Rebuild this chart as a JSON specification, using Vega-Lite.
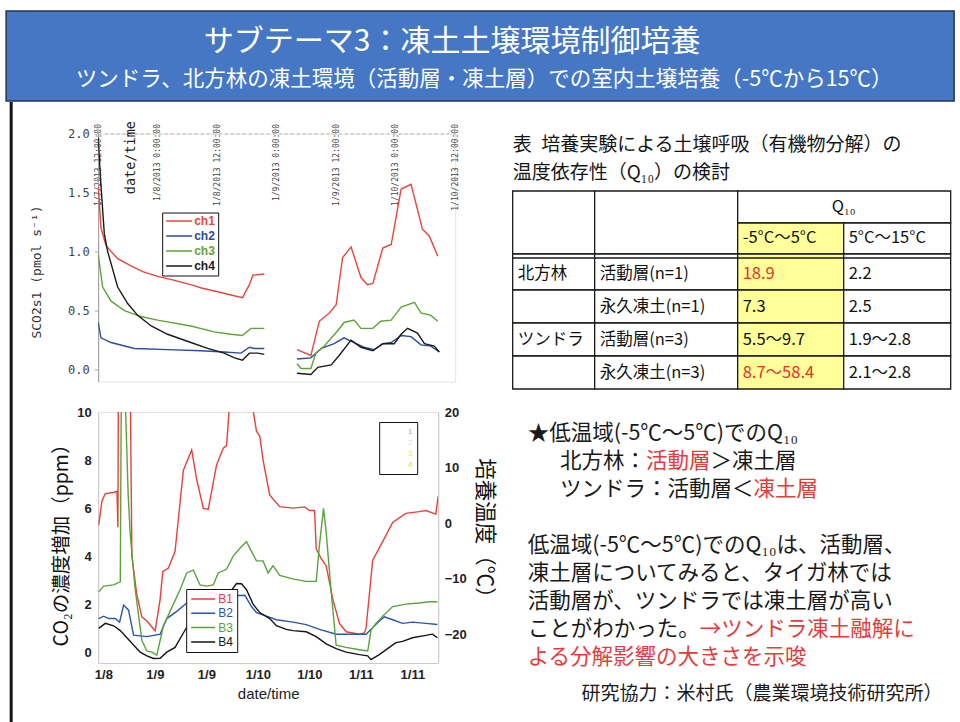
{
  "$schema": "https://vega.github.io/schema/vega-lite/v6.json",
  "background": "#ffffff",
  "padding": {"left": 5, "top": 10, "right": 0, "bottom": 0},
  "config": {"view": {"stroke": null}, "font": "Noto Sans CJK JP", "axis": {"grid": false}},
  "datasets": {
    "heading": [
      {"level": "title", "text": "サブテーマ3：凍土土壌環境制御培養"},
      {"level": "subtitle", "text": "ツンドラ、北方林の凍土環境（活動層・凍土層）での室内土壌培養（-5℃から15℃）"}
    ],
    "sco2": [
      {"ch": "ch1", "seg": 1, "t": 0, "v": 1.55}, {"ch": "ch1", "seg": 1, "t": 0.57, "v": 1.2}, {"ch": "ch1", "seg": 1, "t": 1.58, "v": 1.05}, {"ch": "ch1", "seg": 1, "t": 3.93, "v": 0.94}, {"ch": "ch1", "seg": 1, "t": 6.62, "v": 0.88}, {"ch": "ch1", "seg": 1, "t": 9, "v": 0.83}, {"ch": "ch1", "seg": 1, "t": 12, "v": 0.79}, {"ch": "ch1", "seg": 1, "t": 15, "v": 0.76}, {"ch": "ch1", "seg": 1, "t": 18.7, "v": 0.72}, {"ch": "ch1", "seg": 1, "t": 21, "v": 0.69}, {"ch": "ch1", "seg": 1, "t": 24.1, "v": 0.66}, {"ch": "ch1", "seg": 1, "t": 27, "v": 0.63}, {"ch": "ch1", "seg": 1, "t": 29.1, "v": 0.61}, {"ch": "ch1", "seg": 1, "t": 30.5, "v": 0.72}, {"ch": "ch1", "seg": 1, "t": 31.2, "v": 0.8}, {"ch": "ch1", "seg": 1, "t": 33.5, "v": 0.81},
      {"ch": "ch1", "seg": 2, "t": 40.1, "v": 0.17}, {"ch": "ch1", "seg": 2, "t": 42.9, "v": 0.12}, {"ch": "ch1", "seg": 2, "t": 44.6, "v": 0.41}, {"ch": "ch1", "seg": 2, "t": 46.6, "v": 0.48}, {"ch": "ch1", "seg": 2, "t": 48, "v": 0.55}, {"ch": "ch1", "seg": 2, "t": 49.3, "v": 0.95}, {"ch": "ch1", "seg": 2, "t": 51, "v": 1.04}, {"ch": "ch1", "seg": 2, "t": 53, "v": 0.78}, {"ch": "ch1", "seg": 2, "t": 54.3, "v": 0.72}, {"ch": "ch1", "seg": 2, "t": 55.4, "v": 0.73}, {"ch": "ch1", "seg": 2, "t": 57.4, "v": 1.03}, {"ch": "ch1", "seg": 2, "t": 59.1, "v": 1.06}, {"ch": "ch1", "seg": 2, "t": 59.7, "v": 1.2}, {"ch": "ch1", "seg": 2, "t": 61.1, "v": 1.53}, {"ch": "ch1", "seg": 2, "t": 63.1, "v": 1.57}, {"ch": "ch1", "seg": 2, "t": 65.4, "v": 1.19}, {"ch": "ch1", "seg": 2, "t": 66.8, "v": 1.13}, {"ch": "ch1", "seg": 2, "t": 68.5, "v": 0.96},
      {"ch": "ch2", "seg": 1, "t": 0, "v": 0.4}, {"ch": "ch2", "seg": 1, "t": 0.57, "v": 0.27}, {"ch": "ch2", "seg": 1, "t": 2.6, "v": 0.23}, {"ch": "ch2", "seg": 1, "t": 7.3, "v": 0.18}, {"ch": "ch2", "seg": 1, "t": 14, "v": 0.17}, {"ch": "ch2", "seg": 1, "t": 20.7, "v": 0.16}, {"ch": "ch2", "seg": 1, "t": 25.4, "v": 0.15}, {"ch": "ch2", "seg": 1, "t": 28.8, "v": 0.14}, {"ch": "ch2", "seg": 1, "t": 30.5, "v": 0.19}, {"ch": "ch2", "seg": 1, "t": 31.5, "v": 0.18}, {"ch": "ch2", "seg": 1, "t": 33.5, "v": 0.18},
      {"ch": "ch2", "seg": 2, "t": 40.1, "v": 0.09}, {"ch": "ch2", "seg": 2, "t": 42.9, "v": 0.1}, {"ch": "ch2", "seg": 2, "t": 45, "v": 0.18}, {"ch": "ch2", "seg": 2, "t": 47.6, "v": 0.22}, {"ch": "ch2", "seg": 2, "t": 49.6, "v": 0.27}, {"ch": "ch2", "seg": 2, "t": 51.6, "v": 0.23}, {"ch": "ch2", "seg": 2, "t": 53.6, "v": 0.19}, {"ch": "ch2", "seg": 2, "t": 55.7, "v": 0.17}, {"ch": "ch2", "seg": 2, "t": 57.4, "v": 0.22}, {"ch": "ch2", "seg": 2, "t": 59.1, "v": 0.23}, {"ch": "ch2", "seg": 2, "t": 61.1, "v": 0.29}, {"ch": "ch2", "seg": 2, "t": 63.1, "v": 0.28}, {"ch": "ch2", "seg": 2, "t": 65.1, "v": 0.21}, {"ch": "ch2", "seg": 2, "t": 67.1, "v": 0.2}, {"ch": "ch2", "seg": 2, "t": 68.8, "v": 0.15},
      {"ch": "ch3", "seg": 1, "t": 0, "v": 0.98}, {"ch": "ch3", "seg": 1, "t": 0.9, "v": 0.7}, {"ch": "ch3", "seg": 1, "t": 2.6, "v": 0.58}, {"ch": "ch3", "seg": 1, "t": 5.3, "v": 0.5}, {"ch": "ch3", "seg": 1, "t": 8.6, "v": 0.45}, {"ch": "ch3", "seg": 1, "t": 12, "v": 0.42}, {"ch": "ch3", "seg": 1, "t": 18.7, "v": 0.37}, {"ch": "ch3", "seg": 1, "t": 23.4, "v": 0.32}, {"ch": "ch3", "seg": 1, "t": 26.8, "v": 0.3}, {"ch": "ch3", "seg": 1, "t": 29.1, "v": 0.29}, {"ch": "ch3", "seg": 1, "t": 30.8, "v": 0.35}, {"ch": "ch3", "seg": 1, "t": 33.5, "v": 0.35},
      {"ch": "ch3", "seg": 2, "t": 40.1, "v": 0.05}, {"ch": "ch3", "seg": 2, "t": 40.9, "v": 0.01}, {"ch": "ch3", "seg": 2, "t": 42.9, "v": 0.01}, {"ch": "ch3", "seg": 2, "t": 43.9, "v": 0.14}, {"ch": "ch3", "seg": 2, "t": 45.6, "v": 0.2}, {"ch": "ch3", "seg": 2, "t": 48.3, "v": 0.33}, {"ch": "ch3", "seg": 2, "t": 49.6, "v": 0.4}, {"ch": "ch3", "seg": 2, "t": 51.6, "v": 0.42}, {"ch": "ch3", "seg": 2, "t": 53, "v": 0.35}, {"ch": "ch3", "seg": 2, "t": 55.4, "v": 0.35}, {"ch": "ch3", "seg": 2, "t": 57, "v": 0.41}, {"ch": "ch3", "seg": 2, "t": 59.1, "v": 0.42}, {"ch": "ch3", "seg": 2, "t": 61.1, "v": 0.53}, {"ch": "ch3", "seg": 2, "t": 63.8, "v": 0.57}, {"ch": "ch3", "seg": 2, "t": 65.1, "v": 0.48}, {"ch": "ch3", "seg": 2, "t": 67.1, "v": 0.46}, {"ch": "ch3", "seg": 2, "t": 68.5, "v": 0.41},
      {"ch": "ch4", "seg": 1, "t": 0, "v": 1.97}, {"ch": "ch4", "seg": 1, "t": 0.5, "v": 1.6}, {"ch": "ch4", "seg": 1, "t": 1.24, "v": 1.15}, {"ch": "ch4", "seg": 1, "t": 1.92, "v": 1.0}, {"ch": "ch4", "seg": 1, "t": 3.93, "v": 0.7}, {"ch": "ch4", "seg": 1, "t": 5.95, "v": 0.56}, {"ch": "ch4", "seg": 1, "t": 7.97, "v": 0.46}, {"ch": "ch4", "seg": 1, "t": 10.7, "v": 0.37}, {"ch": "ch4", "seg": 1, "t": 14, "v": 0.3}, {"ch": "ch4", "seg": 1, "t": 18.7, "v": 0.23}, {"ch": "ch4", "seg": 1, "t": 22.1, "v": 0.18}, {"ch": "ch4", "seg": 1, "t": 25.4, "v": 0.14}, {"ch": "ch4", "seg": 1, "t": 27.5, "v": 0.1}, {"ch": "ch4", "seg": 1, "t": 29.1, "v": 0.08}, {"ch": "ch4", "seg": 1, "t": 30.5, "v": 0.14}, {"ch": "ch4", "seg": 1, "t": 32.2, "v": 0.14}, {"ch": "ch4", "seg": 1, "t": 33.5, "v": 0.13},
      {"ch": "ch4", "seg": 2, "t": 40.1, "v": -0.03}, {"ch": "ch4", "seg": 2, "t": 42.9, "v": -0.04}, {"ch": "ch4", "seg": 2, "t": 44.3, "v": 0.02}, {"ch": "ch4", "seg": 2, "t": 47, "v": 0.04}, {"ch": "ch4", "seg": 2, "t": 48.6, "v": 0.12}, {"ch": "ch4", "seg": 2, "t": 51, "v": 0.25}, {"ch": "ch4", "seg": 2, "t": 53, "v": 0.19}, {"ch": "ch4", "seg": 2, "t": 55.4, "v": 0.16}, {"ch": "ch4", "seg": 2, "t": 57.4, "v": 0.22}, {"ch": "ch4", "seg": 2, "t": 59.7, "v": 0.22}, {"ch": "ch4", "seg": 2, "t": 61.1, "v": 0.3}, {"ch": "ch4", "seg": 2, "t": 62.4, "v": 0.35}, {"ch": "ch4", "seg": 2, "t": 64.4, "v": 0.31}, {"ch": "ch4", "seg": 2, "t": 65.8, "v": 0.22}, {"ch": "ch4", "seg": 2, "t": 67.8, "v": 0.2}, {"ch": "ch4", "seg": 2, "t": 68.8, "v": 0.15}
    ],
    "co2": [
      {"b": "B1", "t": -1.08, "v": 5.3}, {"b": "B1", "t": -0.31, "v": 6.3}, {"b": "B1", "t": 0.46, "v": 6.6}, {"b": "B1", "t": 2.4, "v": 6.65}, {"b": "B1", "t": 3.17, "v": 6.7}, {"b": "B1", "t": 3.4, "v": 5.2}, {"b": "B1", "t": 3.5, "v": 10.5}, {"b": "B1", "t": 6.3, "v": 10.5}, {"b": "B1", "t": 6.65, "v": 4.0}, {"b": "B1", "t": 7.8, "v": 2.4}, {"b": "B1", "t": 8.97, "v": 1.47}, {"b": "B1", "t": 10.14, "v": 1.3}, {"b": "B1", "t": 12.07, "v": 0.89}, {"b": "B1", "t": 13.23, "v": 2.2}, {"b": "B1", "t": 13.85, "v": 3.35}, {"b": "B1", "t": 15.16, "v": 3.5}, {"b": "B1", "t": 16.71, "v": 4.2}, {"b": "B1", "t": 18.65, "v": 7.58}, {"b": "B1", "t": 20.58, "v": 8.42}, {"b": "B1", "t": 21.74, "v": 7.2}, {"b": "B1", "t": 23.29, "v": 5.99}, {"b": "B1", "t": 24.45, "v": 5.95}, {"b": "B1", "t": 26.38, "v": 7.8}, {"b": "B1", "t": 27.93, "v": 8.49}, {"b": "B1", "t": 28.7, "v": 8.6}, {"b": "B1", "t": 29.48, "v": 10.5}, {"b": "B1", "t": 34.51, "v": 10.5}, {"b": "B1", "t": 35.67, "v": 9.2}, {"b": "B1", "t": 36.44, "v": 9.0}, {"b": "B1", "t": 37.21, "v": 8.0}, {"b": "B1", "t": 38.76, "v": 6.54}, {"b": "B1", "t": 41.08, "v": 6.06}, {"b": "B1", "t": 44.18, "v": 6.0}, {"b": "B1", "t": 46.89, "v": 6.05}, {"b": "B1", "t": 48.05, "v": 5.9}, {"b": "B1", "t": 49.21, "v": 5.9}, {"b": "B1", "t": 49.59, "v": 4.3}, {"b": "B1", "t": 50.75, "v": 3.9}, {"b": "B1", "t": 51.91, "v": 3.6}, {"b": "B1", "t": 53.46, "v": 2.2}, {"b": "B1", "t": 55.01, "v": 1.2}, {"b": "B1", "t": 56.56, "v": 0.85}, {"b": "B1", "t": 58.1, "v": 0.8}, {"b": "B1", "t": 59.65, "v": 0.75}, {"b": "B1", "t": 60.81, "v": 0.8}, {"b": "B1", "t": 61.2, "v": 1.0}, {"b": "B1", "t": 62.75, "v": 3.83}, {"b": "B1", "t": 65.07, "v": 4.6}, {"b": "B1", "t": 67.39, "v": 5.4}, {"b": "B1", "t": 70.48, "v": 5.78}, {"b": "B1", "t": 73.58, "v": 5.85}, {"b": "B1", "t": 75.13, "v": 5.9}, {"b": "B1", "t": 77.45, "v": 5.75}, {"b": "B1", "t": 78.0, "v": 6.5},
      {"b": "B2", "t": -1.08, "v": 1.4}, {"b": "B2", "t": 0.08, "v": 1.5}, {"b": "B2", "t": 1.24, "v": 1.4}, {"b": "B2", "t": 2.79, "v": 1.4}, {"b": "B2", "t": 3.79, "v": 1.25}, {"b": "B2", "t": 4.72, "v": 1.96}, {"b": "B2", "t": 5.88, "v": 1.75}, {"b": "B2", "t": 7.04, "v": 0.71}, {"b": "B2", "t": 10.14, "v": 0.65}, {"b": "B2", "t": 13.23, "v": 0.75}, {"b": "B2", "t": 14.78, "v": 1.4}, {"b": "B2", "t": 17.1, "v": 1.7}, {"b": "B2", "t": 19.42, "v": 2.05}, {"b": "B2", "t": 21.74, "v": 2.3}, {"b": "B2", "t": 24.06, "v": 2.31}, {"b": "B2", "t": 27.16, "v": 2.3}, {"b": "B2", "t": 30.25, "v": 2.35}, {"b": "B2", "t": 32.96, "v": 2.37}, {"b": "B2", "t": 34.51, "v": 1.9}, {"b": "B2", "t": 35.67, "v": 1.65}, {"b": "B2", "t": 37.99, "v": 1.5}, {"b": "B2", "t": 40.31, "v": 1.35}, {"b": "B2", "t": 44.18, "v": 1.25}, {"b": "B2", "t": 47.27, "v": 1.15}, {"b": "B2", "t": 50.37, "v": 0.95}, {"b": "B2", "t": 54.24, "v": 0.75}, {"b": "B2", "t": 58.1, "v": 0.75}, {"b": "B2", "t": 61.2, "v": 0.75}, {"b": "B2", "t": 62.36, "v": 0.95}, {"b": "B2", "t": 64.29, "v": 1.3}, {"b": "B2", "t": 65.45, "v": 1.47}, {"b": "B2", "t": 67.39, "v": 1.35}, {"b": "B2", "t": 69.71, "v": 1.2}, {"b": "B2", "t": 72.03, "v": 1.25}, {"b": "B2", "t": 75.13, "v": 1.2}, {"b": "B2", "t": 77.83, "v": 1.15},
      {"b": "B3", "t": -1.08, "v": 2.51}, {"b": "B3", "t": 0.08, "v": 2.75}, {"b": "B3", "t": 2.4, "v": 2.8}, {"b": "B3", "t": 3.95, "v": 2.93}, {"b": "B3", "t": 4.18, "v": 10.5}, {"b": "B3", "t": 5.11, "v": 10.5}, {"b": "B3", "t": 5.8, "v": 6.5}, {"b": "B3", "t": 6.27, "v": 4.9}, {"b": "B3", "t": 7.43, "v": 2.6}, {"b": "B3", "t": 8.97, "v": 0.5}, {"b": "B3", "t": 10.14, "v": 0.05}, {"b": "B3", "t": 11.3, "v": 0.0}, {"b": "B3", "t": 12.46, "v": -0.12}, {"b": "B3", "t": 14.0, "v": 1.1}, {"b": "B3", "t": 15.55, "v": 1.7}, {"b": "B3", "t": 17.87, "v": 2.6}, {"b": "B3", "t": 19.42, "v": 3.3}, {"b": "B3", "t": 20.97, "v": 3.42}, {"b": "B3", "t": 22.51, "v": 2.8}, {"b": "B3", "t": 24.06, "v": 2.75}, {"b": "B3", "t": 25.61, "v": 2.8}, {"b": "B3", "t": 26.77, "v": 3.3}, {"b": "B3", "t": 28.7, "v": 3.45}, {"b": "B3", "t": 30.25, "v": 4.0}, {"b": "B3", "t": 32.19, "v": 4.4}, {"b": "B3", "t": 33.35, "v": 4.6}, {"b": "B3", "t": 34.51, "v": 4.2}, {"b": "B3", "t": 35.67, "v": 3.8}, {"b": "B3", "t": 37.21, "v": 3.8}, {"b": "B3", "t": 38.38, "v": 3.3}, {"b": "B3", "t": 39.54, "v": 3.6}, {"b": "B3", "t": 41.08, "v": 3.2}, {"b": "B3", "t": 44.18, "v": 3.05}, {"b": "B3", "t": 47.27, "v": 2.95}, {"b": "B3", "t": 49.59, "v": 2.95}, {"b": "B3", "t": 50.37, "v": 4.5}, {"b": "B3", "t": 51.3, "v": 5.99}, {"b": "B3", "t": 51.91, "v": 5.0}, {"b": "B3", "t": 53.08, "v": 2.5}, {"b": "B3", "t": 54.24, "v": 0.29}, {"b": "B3", "t": 56.56, "v": 0.2}, {"b": "B3", "t": 59.65, "v": 0.1}, {"b": "B3", "t": 61.59, "v": 0.05}, {"b": "B3", "t": 62.36, "v": 0.92}, {"b": "B3", "t": 63.52, "v": 1.2}, {"b": "B3", "t": 65.07, "v": 1.5}, {"b": "B3", "t": 67.39, "v": 1.9}, {"b": "B3", "t": 70.48, "v": 2.0}, {"b": "B3", "t": 73.58, "v": 2.05}, {"b": "B3", "t": 75.9, "v": 2.1}, {"b": "B3", "t": 77.83, "v": 2.1},
      {"b": "B4", "t": -1.08, "v": 0.99}, {"b": "B4", "t": 0.46, "v": 1.2}, {"b": "B4", "t": 2.4, "v": 1.1}, {"b": "B4", "t": 3.95, "v": 0.9}, {"b": "B4", "t": 5.49, "v": 0.6}, {"b": "B4", "t": 7.04, "v": 0.3}, {"b": "B4", "t": 8.59, "v": 0.0}, {"b": "B4", "t": 10.14, "v": -0.15}, {"b": "B4", "t": 11.68, "v": -0.26}, {"b": "B4", "t": 13.23, "v": -0.25}, {"b": "B4", "t": 14.78, "v": 0.0}, {"b": "B4", "t": 16.71, "v": 0.2}, {"b": "B4", "t": 18.65, "v": 0.8}, {"b": "B4", "t": 20.97, "v": 1.5}, {"b": "B4", "t": 22.51, "v": 1.8}, {"b": "B4", "t": 24.06, "v": 1.9}, {"b": "B4", "t": 26.38, "v": 2.0}, {"b": "B4", "t": 28.7, "v": 2.3}, {"b": "B4", "t": 31.03, "v": 2.86}, {"b": "B4", "t": 32.19, "v": 2.85}, {"b": "B4", "t": 33.35, "v": 2.6}, {"b": "B4", "t": 34.89, "v": 2.0}, {"b": "B4", "t": 36.44, "v": 1.65}, {"b": "B4", "t": 38.76, "v": 1.4}, {"b": "B4", "t": 40.31, "v": 1.1}, {"b": "B4", "t": 42.63, "v": 0.95}, {"b": "B4", "t": 44.18, "v": 0.9}, {"b": "B4", "t": 47.27, "v": 0.85}, {"b": "B4", "t": 49.59, "v": 0.65}, {"b": "B4", "t": 51.91, "v": 0.35}, {"b": "B4", "t": 54.24, "v": 0.15}, {"b": "B4", "t": 56.56, "v": 0.0}, {"b": "B4", "t": 59.65, "v": -0.1}, {"b": "B4", "t": 61.59, "v": -0.15}, {"b": "B4", "t": 62.36, "v": -0.31}, {"b": "B4", "t": 64.29, "v": -0.1}, {"b": "B4", "t": 66.62, "v": 0.2}, {"b": "B4", "t": 68.16, "v": 0.4}, {"b": "B4", "t": 69.71, "v": 0.45}, {"b": "B4", "t": 72.03, "v": 0.6}, {"b": "B4", "t": 75.13, "v": 0.7}, {"b": "B4", "t": 76.67, "v": 0.75}, {"b": "B4", "t": 77.83, "v": 0.6}
    ],
    "q10cells": [
      {"r0": 0, "r1": 2, "c0": 0, "c1": 1, "label": ""},
      {"r0": 0, "r1": 2, "c0": 1, "c1": 2, "label": ""},
      {"r0": 0, "r1": 1, "c0": 2, "c1": 4, "label": "Q₁₀"},
      {"r0": 1, "r1": 2, "c0": 2, "c1": 3, "label": "-5°C～5°C"},
      {"r0": 1, "r1": 2, "c0": 3, "c1": 4, "label": "5°C～15°C"},
      {"r0": 2, "r1": 3, "c0": 0, "c1": 1, "label": "北方林"},
      {"r0": 2, "r1": 3, "c0": 1, "c1": 2, "label": "活動層(n=1)"},
      {"r0": 2, "r1": 3, "c0": 2, "c1": 3, "label": "18.9", "emph": true},
      {"r0": 2, "r1": 3, "c0": 3, "c1": 4, "label": "2.2"},
      {"r0": 3, "r1": 4, "c0": 0, "c1": 1, "label": ""},
      {"r0": 3, "r1": 4, "c0": 1, "c1": 2, "label": "永久凍土(n=1)"},
      {"r0": 3, "r1": 4, "c0": 2, "c1": 3, "label": "7.3"},
      {"r0": 3, "r1": 4, "c0": 3, "c1": 4, "label": "2.5"},
      {"r0": 4, "r1": 5, "c0": 0, "c1": 1, "label": "ツンドラ"},
      {"r0": 4, "r1": 5, "c0": 1, "c1": 2, "label": "活動層(n=3)"},
      {"r0": 4, "r1": 5, "c0": 2, "c1": 3, "label": "5.5～9.7"},
      {"r0": 4, "r1": 5, "c0": 3, "c1": 4, "label": "1.9～2.8"},
      {"r0": 5, "r1": 6, "c0": 0, "c1": 1, "label": ""},
      {"r0": 5, "r1": 6, "c0": 1, "c1": 2, "label": "永久凍土(n=3)"},
      {"r0": 5, "r1": 6, "c0": 2, "c1": 3, "label": "8.7～58.4", "emph": true},
      {"r0": 5, "r1": 6, "c0": 3, "c1": 4, "label": "2.1～2.8"}
    ],
    "tableTitle": [
      {"line": 0, "text": "表\u2002培養実験による土壌呼吸（有機物分解）の"},
      {"line": 1, "text": "温度依存性（Q₁₀）の検討"}
    ],
    "notes": [
      {"line": 0, "col": 0, "text": "★低温域(-5℃～5℃)でのQ₁₀"},
      {"line": 1, "col": 1.5, "text": "北方林："},
      {"line": 1, "col": 5.5, "text": "活動層", "hl": true},
      {"line": 1, "col": 8.5, "text": "＞凍土層"},
      {"line": 2, "col": 1.5, "text": "ツンドラ：活動層＜"},
      {"line": 2, "col": 10.5, "text": "凍土層", "hl": true},
      {"line": 4, "col": 0, "text": "低温域(-5℃～5℃)でのQ₁₀は、活動層、"},
      {"line": 5, "col": 0, "text": "凍土層についてみると、タイガ林では"},
      {"line": 6, "col": 0, "text": "活動層が、ツンドラでは凍土層が高い"},
      {"line": 7, "col": 0, "text": "ことがわかった。"},
      {"line": 7, "col": 8, "text": "→ツンドラ凍土融解に", "hl": true},
      {"line": 8, "col": 0, "text": "よる分解影響の大きさを示唆", "hl": true}
    ],
    "credit": [
      {"line": 9, "col": 2.5, "text": "研究協力：米村氏（農業環境技術研究所）"}
    ]
  },
  "vconcat": [
    {
      "width": 948,
      "height": 90,
      "view": {"fill": "#4577c4", "stroke": "#25334d", "strokeWidth": 1.5},
      "data": {"name": "heading"},
      "layer": [
        {
          "transform": [{"filter": "datum.level === 'title'"}],
          "mark": {"type": "text", "font": "Noto Sans CJK JP", "fontSize": 30, "color": "#ffffff", "dx": -28, "dy": -14, "baseline": "middle"},
          "encoding": {"text": {"field": "text"}}
        },
        {
          "transform": [{"filter": "datum.level === 'subtitle'"}],
          "mark": {"type": "text", "font": "Noto Sans CJK JP", "fontSize": 21.5, "color": "#ffffff", "dx": 4, "dy": 24, "baseline": "middle"},
          "encoding": {"text": {"field": "text"}}
        }
      ]
    },
    {
      "spacing": 16.5,
      "hconcat": [
        {
          "width": 3,
          "height": 620,
          "view": {"fill": "#141414", "stroke": null},
          "data": {"values": []},
          "mark": "point",
          "encoding": {}
        },
        {
          "bounds": "flush",
          "spacing": 30.5,
          "resolve": {"scale": {"color": "independent"}, "legend": {"color": "independent"}},
          "vconcat": [
            {"width": 1, "height": 1, "data": {"values": []}, "mark": "point", "encoding": {}},
            {
              "width": 357,
              "height": 248,
              "view": {"stroke": "#e4e4e4"},
              "data": {"name": "sco2"},
              "mark": {"type": "line", "strokeWidth": 1.4, "clip": true},
              "encoding": {
                "x": {
                  "field": "t",
                  "type": "quantitative",
                  "scale": {"domain": [0, 72], "nice": false, "zero": false},
                  "axis": {
                    "orient": "top",
                    "values": [0, 12, 24, 36, 48, 60, 72],
                    "labelExpr": "timeFormat(datetime(2013, 0, 7, 12 + datum.value, 0, 0), '%-m/%-d/%Y %-H:%M:%S')",
                    "labelAngle": 270,
                    "labelAlign": "right",
                    "labelBaseline": "middle",
                    "labelFont": "DejaVu Sans Mono",
                    "labelFontSize": 8,
                    "labelColor": "#444444",
                    "labelPadding": 10,
                    "labelFlush": false,
                    "labelOverlap": false,
                    "ticks": false,
                    "domainColor": "#b4b4b4",
                    "domainDash": [3, 3],
                    "title": "date/time",
                    "titleFont": "DejaVu Sans Mono",
                    "titleFontSize": 13.5,
                    "titleFontWeight": "normal",
                    "titleColor": "#222222",
                    "titleAngle": 270,
                    "titleAlign": "right",
                    "titleBaseline": "middle",
                    "titleX": 32,
                    "titleY": -13
                  }
                },
                "y": {
                  "field": "v",
                  "type": "quantitative",
                  "scale": {"domain": [-0.1, 2.0], "nice": false, "zero": false},
                  "axis": {
                    "values": [0, 0.5, 1, 1.5, 2],
                    "format": ".1f",
                    "labelFont": "DejaVu Sans Mono",
                    "labelFontSize": 12,
                    "labelColor": "#444444",
                    "labelPadding": 5,
                    "labelOverlap": false,
                    "tickSize": 4,
                    "tickColor": "#aaaaaa",
                    "domainColor": "#9a9a9a",
                    "title": "SCO2s1  (pmol s⁻¹)",
                    "titleFont": "DejaVu Sans Mono",
                    "titleFontSize": 13,
                    "titleFontWeight": "normal",
                    "titleColor": "#333333",
                    "titleAngle": 270,
                    "titleAlign": "center",
                    "titleBaseline": "middle",
                    "titleX": -62,
                    "titleY": 138
                  }
                },
                "color": {
                  "field": "ch",
                  "type": "nominal",
                  "scale": {"domain": ["ch1", "ch2", "ch3", "ch4"], "range": ["#e8463c", "#2b4c9b", "#5fa437", "#1a1a1a"]},
                  "legend": {
                    "orient": "none",
                    "legendX": 64,
                    "legendY": 79,
                    "title": null,
                    "strokeColor": "#111111",
                    "fillColor": "#ffffff",
                    "padding": 3,
                    "symbolType": "stroke",
                    "symbolSize": 676,
                    "symbolStrokeWidth": 1.5,
                    "labelFont": "Liberation Sans",
                    "labelFontSize": 12,
                    "labelFontWeight": "bold",
                    "labelOffset": 1,
                    "clipHeight": 11,
                    "rowPadding": 2,
                    "encode": {"labels": {"update": {"fill": {"signal": "datum.value === 'ch1' ? '#e8463c' : datum.value === 'ch2' ? '#2b4c9b' : datum.value === 'ch3' ? '#5fa437' : '#1a1a1a'"}}}}
                  }
                },
                "detail": {"field": "seg", "type": "nominal"}
              }
            },
            {
              "width": 340,
              "height": 251,
              "view": {"stroke": "#e4e4e4"},
              "layer": [
                {
                  "data": {"name": "co2"},
                  "mark": {"type": "line", "strokeWidth": 1.4, "clip": true},
                  "encoding": {
                    "x": {
                      "field": "t",
                      "type": "quantitative",
                      "scale": {"domain": [-1.2, 78], "nice": false, "zero": false},
                      "axis": {
                        "orient": "bottom",
                        "values": [0, 12, 24, 36, 48, 60, 72],
                        "labelExpr": "timeFormat(datetime(2013, 0, 8, 18 + datum.value, 0, 0), '%-m/%-d')",
                        "labelFont": "Liberation Sans",
                        "labelFontSize": 13,
                        "labelFontWeight": "bold",
                        "labelColor": "#222222",
                        "labelPadding": 5,
                        "labelFlush": false,
                        "labelOverlap": false,
                        "ticks": false,
                        "domainColor": "#cccccc",
                        "title": "date/time",
                        "titleFont": "Liberation Sans",
                        "titleFontSize": 15,
                        "titleFontWeight": "normal",
                        "titleColor": "#222222",
                        "titlePadding": 5
                      }
                    },
                    "y": {
                      "field": "v",
                      "type": "quantitative",
                      "scale": {"domain": [-0.45, 10], "nice": false, "zero": false},
                      "axis": {
                        "orient": "left",
                        "values": [0, 2, 4, 6, 8, 10],
                        "labelFont": "Liberation Sans",
                        "labelFontSize": 13,
                        "labelFontWeight": "bold",
                        "labelColor": "#222222",
                        "labelPadding": 7,
                        "ticks": false,
                        "domainColor": "#c8c8c8",
                        "title": "CO₂の濃度増加（ppm）",
                        "titleFont": "Noto Sans CJK JP",
                        "titleFontSize": 19.5,
                        "titleFontWeight": "normal",
                        "titleColor": "#111111",
                        "titleAngle": 270,
                        "titleAlign": "center",
                        "titleBaseline": "middle",
                        "titleX": -37,
                        "titleY": 128
                      }
                    },
                    "color": {
                      "field": "b",
                      "type": "nominal",
                      "scale": {"domain": ["B1", "B2", "B3", "B4"], "range": ["#e8403a", "#2b55a8", "#5aa23a", "#151515"]},
                      "legend": {
                        "orient": "none",
                        "legendX": 88,
                        "legendY": 177,
                        "title": null,
                        "strokeColor": "#111111",
                        "fillColor": "#ffffff",
                        "padding": 4,
                        "symbolType": "stroke",
                        "symbolSize": 576,
                        "symbolStrokeWidth": 1.5,
                        "labelFont": "Liberation Sans",
                        "labelFontSize": 12,
                        "labelOffset": 2,
                        "clipHeight": 12,
                        "rowPadding": 2.3,
                        "encode": {"labels": {"update": {"fill": {"signal": "datum.value === 'B1' ? '#e8403a' : datum.value === 'B2' ? '#2b55a8' : datum.value === 'B3' ? '#5aa23a' : '#151515'"}}}}
                      }
                    }
                  }
                },
                {
                  "data": {"values": []},
                  "mark": {"type": "line", "clip": true},
                  "encoding": {
                    "x": {"field": "t", "type": "quantitative"},
                    "y": {
                      "field": "temp",
                      "type": "quantitative",
                      "scale": {"domain": [-25.2, 20], "nice": false, "zero": false},
                      "axis": {
                        "orient": "right",
                        "values": [-20, -10, 0, 10, 20],
                        "labelFont": "Liberation Sans",
                        "labelFontSize": 13,
                        "labelFontWeight": "bold",
                        "labelColor": "#222222",
                        "labelPadding": 6,
                        "ticks": false,
                        "domainColor": "#c8c8c8",
                        "title": "培養温度（℃）",
                        "titleFont": "Noto Sans CJK JP",
                        "titleFontSize": 21.5,
                        "titleFontWeight": "normal",
                        "titleColor": "#111111",
                        "titleAngle": 90,
                        "titleAlign": "center",
                        "titleBaseline": "middle",
                        "titleX": 45.5,
                        "titleY": 121
                      }
                    },
                    "color": {
                      "field": "probe",
                      "type": "nominal",
                      "scale": {"domain": ["1", "2", "3", "4"], "range": ["#a0a0a0", "#cfe3f3", "#e6dc50", "#c9d65a"]},
                      "legend": {
                        "orient": "none",
                        "legendX": 281,
                        "legendY": 10,
                        "title": null,
                        "strokeColor": "#111111",
                        "fillColor": "#ffffff",
                        "padding": 5,
                        "symbolType": "stroke",
                        "symbolSize": 400,
                        "symbolOpacity": 0,
                        "labelFont": "Liberation Sans",
                        "labelFontSize": 7,
                        "labelOffset": 2,
                        "clipHeight": 9,
                        "rowPadding": 2,
                        "encode": {"labels": {"update": {"fill": {"signal": "datum.value === '1' ? '#a0a0a0' : datum.value === '2' ? '#cfe3f3' : datum.value === '3' ? '#e6dc50' : '#c9d65a'"}}}}
                      }
                    }
                  }
                }
              ],
              "resolve": {"scale": {"y": "independent", "color": "independent"}, "axis": {"y": "independent"}}
            }
          ]
        },
        {
          "bounds": "flush",
          "spacing": 0,
          "vconcat": [
            {
              "width": 438,
              "height": 88.5,
              "data": {"name": "tableTitle"},
              "mark": {"type": "text", "align": "left", "baseline": "middle", "x": 0, "font": "Noto Sans CJK JP", "fontSize": 19, "color": "#151515"},
              "encoding": {
                "y": {"field": "line", "type": "ordinal", "scale": {"type": "point", "domain": [0, 1], "range": [42.5, 71], "padding": 0}, "axis": null},
                "text": {"field": "text"}
              }
            },
            {
              "width": 438,
              "height": 198,
              "data": {"name": "q10cells"},
              "layer": [
                {
                  "mark": {"type": "rect", "stroke": "#1a1a1a", "strokeWidth": 1.3},
                  "encoding": {
                    "x": {"field": "c0", "type": "quantitative", "scale": {"domain": [0, 1, 2, 3, 4], "range": [0, 82, 225, 331, 438], "nice": false, "zero": false}, "axis": null},
                    "x2": {"field": "c1"},
                    "y": {"field": "r0", "type": "quantitative", "scale": {"domain": [0, 1, 2, 3, 4, 5, 6], "range": [0, 32, 63, 99, 132, 165, 198], "nice": false, "zero": false}, "axis": null},
                    "y2": {"field": "r1"},
                    "fill": {"condition": {"test": "datum.c0 === 2 && datum.c1 === 3", "value": "#ffff99"}, "value": "#ffffff"}
                  }
                },
                {
                  "transform": [{"filter": "datum.r0 === 2"}],
                  "mark": {"type": "rule", "stroke": "#1a1a1a", "strokeWidth": 1.3, "yOffset": 4},
                  "encoding": {
                    "x": {"field": "c0", "type": "quantitative"},
                    "x2": {"field": "c1"},
                    "y": {"field": "r0", "type": "quantitative"}
                  }
                },
                {
                  "transform": [{"filter": "datum.c1 - datum.c0 === 1 && datum.label !== ''"}],
                  "mark": {"type": "text", "align": "left", "baseline": "middle", "dx": 5, "dy": -16.5, "font": "Noto Sans CJK JP", "fontSize": 16.5},
                  "encoding": {
                    "x": {"field": "c0", "type": "quantitative"},
                    "y": {"field": "r1", "type": "quantitative"},
                    "text": {"field": "label"},
                    "color": {"condition": {"test": "datum.emph === true", "value": "#e8312a"}, "value": "#111111"}
                  }
                },
                {
                  "transform": [{"filter": "datum.c1 - datum.c0 === 2"}, {"calculate": "(datum.c0 + datum.c1) / 2", "as": "cx"}],
                  "mark": {"type": "text", "align": "center", "baseline": "middle", "dy": -16.5, "font": "Noto Sans CJK JP", "fontSize": 16.5, "color": "#111111"},
                  "encoding": {
                    "x": {"field": "cx", "type": "quantitative"},
                    "y": {"field": "r1", "type": "quantitative"},
                    "text": {"field": "label"}
                  }
                }
              ]
            },
            {
              "width": 438,
              "height": 332,
              "layer": [
                {
                  "data": {"name": "notes"},
                  "mark": {"type": "text", "align": "left", "baseline": "middle", "font": "Noto Sans CJK JP", "fontSize": 21.5},
                  "encoding": {
                    "x": {"field": "col", "type": "quantitative", "scale": {"domain": [0, 20], "range": [15, 445], "nice": false, "zero": false}, "axis": null},
                    "y": {"field": "line", "type": "ordinal", "scale": {"type": "point", "domain": [0, 1, 2, 3, 4, 5, 6, 7, 8, 9], "range": [45, 297], "padding": 0}, "axis": null},
                    "text": {"field": "text"},
                    "color": {"condition": {"test": "datum.hl === true", "value": "#e63b3b"}, "value": "#1a1a1a"}
                  }
                },
                {
                  "data": {"name": "credit"},
                  "mark": {"type": "text", "align": "left", "baseline": "middle", "dy": 8, "font": "Noto Sans CJK JP", "fontSize": 19, "color": "#1a1a1a"},
                  "encoding": {
                    "x": {"field": "col", "type": "quantitative"},
                    "y": {"field": "line", "type": "ordinal"},
                    "text": {"field": "text"}
                  }
                }
              ]
            }
          ]
        }
      ]
    }
  ],
  "spacing": 0,
  "center": true
}
